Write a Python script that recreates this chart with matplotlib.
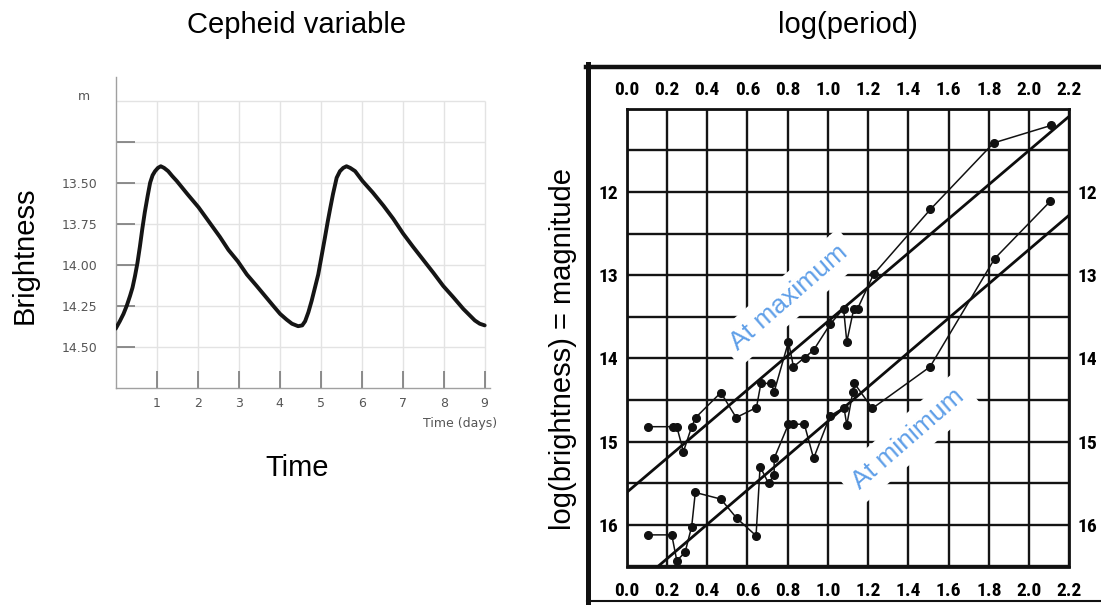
import numpy as np
import matplotlib
matplotlib.use("Agg")
import matplotlib.pyplot as plt
from matplotlib import font_manager
from matplotlib.lines import Line2D

# ---------------- data: left panel (Cepheid light curve) ----------------
time_days = [0.00, 0.10, 0.19, 0.27, 0.35, 0.41, 0.47, 0.53, 0.59, 0.65, 0.71, 0.78,
             0.84, 0.90, 0.96, 1.03, 1.10, 1.18, 1.28, 1.38, 1.49, 1.75, 2.02, 2.28,
             2.54, 2.75, 2.98, 3.20, 3.44, 3.64, 3.84, 4.01, 4.17, 4.30, 4.45, 4.55,
             4.62, 4.70, 4.78, 4.86, 4.94, 5.02, 5.10, 5.17, 5.23, 5.30, 5.39, 5.47,
             5.55, 5.63, 5.72, 5.84, 6.02, 6.27, 6.53, 6.77, 7.01, 7.25, 7.50, 7.75,
             7.99, 8.24, 8.48, 8.64, 8.76, 8.88, 9.00]
brightness_mag = [14.39, 14.345, 14.30, 14.25, 14.19, 14.14, 14.07, 13.99, 13.89, 13.78, 13.68, 13.58,
                  13.50, 13.455, 13.43, 13.41, 13.40, 13.41, 13.43, 13.46, 13.49, 13.57, 13.65, 13.74,
                  13.83, 13.91, 13.98, 14.06, 14.13, 14.19, 14.25, 14.30, 14.335, 14.36, 14.375, 14.37,
                  14.345, 14.29, 14.22, 14.14, 14.06, 13.95, 13.84, 13.74, 13.66, 13.57, 13.47, 13.43,
                  13.41, 13.40, 13.41, 13.43, 13.49, 13.56, 13.64, 13.72, 13.81, 13.89, 13.97, 14.05,
                  14.13, 14.20, 14.27, 14.31, 14.34, 14.36, 14.37]
left_xticks = [1, 2, 3, 4, 5, 6, 7, 8, 9]
left_xtick_labels = ["1", "2", "3", "4", "5", "6", "7", "8", "9"]
left_yticks = [13.25, 13.50, 13.75, 14.00, 14.25, 14.50]
left_ytick_labels = ["", "13.50", "13.75", "14.00", "14.25", "14.50"]
left_hgrid = [13.00, 13.25, 13.50, 13.75, 14.00, 14.25, 14.50]

# ---------------- data: right panel (period-luminosity) ----------------
logp_ticks = [0.0, 0.2, 0.4, 0.6, 0.8, 1.0, 1.2, 1.4, 1.6, 1.8, 2.0, 2.2]
logp_tick_labels = ["0.0", "0.2", "0.4", "0.6", "0.8", "1.0", "1.2", "1.4", "1.6", "1.8", "2.0", "2.2"]
mag_ticks = [11.0, 11.5, 12.0, 12.5, 13.0, 13.5, 14.0, 14.5, 15.0, 15.5, 16.0, 16.5]
mag_tick_labels = ["", "", "12", "", "13", "", "14", "", "15", "", "16", ""]

logp_max = [0.104, 0.231, 0.249, 0.282, 0.323, 0.343, 0.468, 0.544, 0.645, 0.667, 0.718, 0.733,
            0.804, 0.829, 0.884, 0.929, 1.011, 1.078, 1.094, 1.129, 1.148, 1.227, 1.509, 1.824, 2.109]
mag_max = [14.82, 14.82, 14.82, 15.12, 14.82, 14.71, 14.41, 14.71, 14.59, 14.30, 14.30, 14.40,
           13.80, 14.10, 13.99, 13.90, 13.59, 13.40, 13.80, 13.40, 13.40, 12.99, 12.21, 11.41, 11.20]

logp_min = [0.104, 0.224, 0.249, 0.290, 0.323, 0.341, 0.468, 0.547, 0.643, 0.663, 0.705, 0.733, 0.733,
            0.804, 0.829, 0.883, 0.929, 1.011, 1.080, 1.094, 1.124, 1.132, 1.221, 1.508, 1.829, 2.106]
mag_min = [16.12, 16.12, 16.43, 16.33, 16.02, 15.61, 15.69, 15.92, 16.13, 15.30, 15.50, 15.40, 15.20,
           14.79, 14.79, 14.79, 15.20, 14.69, 14.59, 14.80, 14.40, 14.30, 14.60, 14.10, 12.80, 12.11]

fit_max = (15.61, -2.055)   # intercept, slope
fit_min = (16.82, -2.065)

# ---------------- fonts ----------------
available = {f.name for f in font_manager.fontManager.ttflist}
def pick(cands):
    for c in cands:
        if c in available:
            return c
    return "DejaVu Sans"
sans = pick(["Liberation Sans", "Arial", "DejaVu Sans"])
narrow = pick(["Liberation Sans Narrow", "Roboto Condensed", "DejaVu Sans Condensed", "DejaVu Sans"])
narrow_size = 14 if narrow in ("Liberation Sans Narrow", "Roboto Condensed") else 11.5

W, H = 1101, 605
def fx(px):
    return px / W
def fy(py):
    return 1 - py / H

fig = plt.figure(figsize=(W / 100, H / 100), dpi=100)

# ---------------- left panel ----------------
L, R, T, B = 115.7, 490.0, 76.7, 387.7
ax1 = fig.add_axes([fx(L), fy(B), (R - L) / W, (B - T) / H])
ax1.set_xlim(0, 9.13)
ax1.set_ylim(14.75, 12.854)
ax1.hlines(left_hgrid, 0, 9, color="#e3e3e3", lw=1.0, zorder=0)
ax1.vlines(left_xticks, 13.0, 14.75, color="#e3e3e3", lw=1.0, zorder=0)
ax1.plot(time_days, brightness_mag, color="#151515", lw=2.8,
         solid_joinstyle="round", solid_capstyle="round", zorder=3)
for s in ("top", "right"):
    ax1.spines[s].set_visible(False)
for s in ("left", "bottom"):
    ax1.spines[s].set_color("#a0a0a0")
    ax1.spines[s].set_linewidth(1.0)
ax1.set_xticks(left_xticks, left_xtick_labels)
ax1.set_yticks(left_yticks, left_ytick_labels)
ax1.tick_params(axis="x", direction="in", length=12.5, width=1.2, color="#7a7a7a",
                labelsize=9, labelcolor="#555555", pad=7)
ax1.tick_params(axis="y", direction="in", length=14, width=1.2, color="#7a7a7a",
                labelsize=9, labelcolor="#555555", pad=13)
fig.text(fx(84), fy(97), "m", ha="center", va="center", fontsize=9, color="#555555")
fig.text(fx(497), fy(424), "Time (days)", ha="right", va="center", fontsize=9, color="#555555")

# ---------------- right panel ----------------
L2, R2, T2, B2 = 626.7, 1069.3, 108.8, 566.5
ax2 = fig.add_axes([fx(L2), fy(B2), (R2 - L2) / W, (B2 - T2) / H])
ax2.set_xlim(0, 2.2)
ax2.set_ylim(16.5, 11.0)
ax2.set_xticks(logp_ticks, logp_tick_labels)
ax2.set_yticks(mag_ticks, mag_tick_labels)
ax2.set_axisbelow(True)
ax2.grid(True, color="#141414", lw=1.7)
for s in ax2.spines.values():
    s.set_color("#111111")
    s.set_linewidth(2.0)
lab_font = font_manager.FontProperties(family=narrow, weight="bold", size=narrow_size)
ax2.tick_params(axis="both", length=0)
ax2.tick_params(axis="x", pad=11, labelbottom=True)
ax2.tick_params(axis="y", pad=6, left=True, right=True, labelleft=True, labelright=True)
for lab in ax2.get_xticklabels():
    lab.set_fontproperties(lab_font)
for t in ax2.yaxis.get_major_ticks():
    t.label1.set_fontproperties(lab_font)
    t.label2.set_fontproperties(lab_font)

sec = ax2.secondary_xaxis("top")
sec.set_xticks(logp_ticks, logp_tick_labels)
sec.tick_params(length=0, pad=7)
sec.spines["top"].set_visible(False)
for lab in sec.get_xticklabels():
    lab.set_fontproperties(lab_font)

xs = np.array([0.0, 2.2])
ax2.plot(xs, fit_max[0] + fit_max[1] * xs, color="#0d0d0d", lw=2.0, zorder=3)
ax2.plot(xs, fit_min[0] + fit_min[1] * xs, color="#0d0d0d", lw=2.0, zorder=3)
ax2.plot(logp_max, mag_max, "-o", color="#111111", lw=1.1, ms=5.5, zorder=4)
ax2.plot(logp_min, mag_min, "-o", color="#111111", lw=1.1, ms=5.5, zorder=4)

ann = dict(rotation=41, rotation_mode="anchor", ha="center", va="center",
           fontsize=19, color="#5f9fe8", family=sans, zorder=2.5,
           bbox=dict(facecolor="white", edgecolor="none", pad=6))
ax2.text(0.807, 13.27, "At maximum", **ann)
ax2.text(1.398, 14.97, "At minimum", **ann)

# scanned-figure frame
fig.add_artist(Line2D([fx(587.5), fx(587.5)], [fy(64), fy(605)], lw=3.6, color="#111111",
                      transform=fig.transFigure))
fig.add_artist(Line2D([fx(585.7), 1.0], [fy(66.5), fy(66.5)], lw=3.2, color="#111111",
                      transform=fig.transFigure))
fig.add_artist(Line2D([fx(587), 1.0], [fy(601), fy(601)], lw=1.5, color="#111111",
                      transform=fig.transFigure))

# ---------------- big labels ----------------
big = dict(fontsize=21, family=sans, color="#000000", ha="center", va="center")
fig.text(fx(297), fy(25), "Cepheid variable", **big)
fig.text(fx(848), fy(25), "log(period)", **big)
fig.text(fx(25), fy(255), "Brightness", rotation=90, **big)
fig.text(fx(297), fy(468), "Time", **big)
fig.text(fx(563), fy(349), "log(brightness) = magnitude", rotation=90, **big)

fig.savefig("out.png", dpi=100)
